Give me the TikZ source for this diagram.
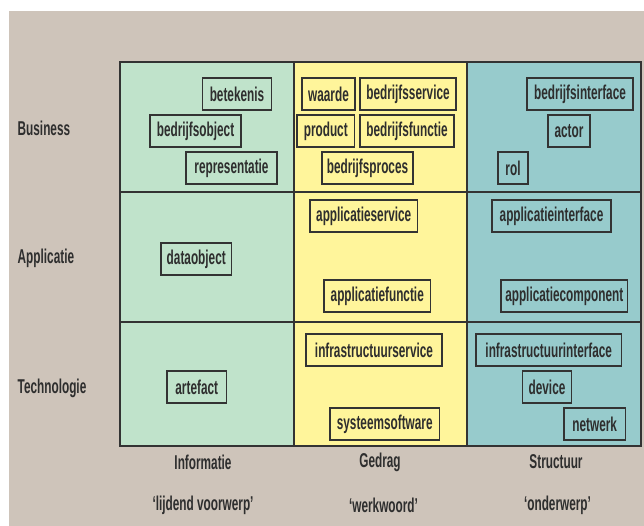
\documentclass[tikz,border=0pt]{standalone}
\usepackage{fontspec}
\newfontfamily\cfont{Liberation Sans}[FakeStretch=0.59]
\definecolor{bgc}{HTML}{CEC4BA}
\definecolor{greenc}{HTML}{C0E3CB}
\definecolor{yellowc}{HTML}{FFF59B}
\definecolor{tealc}{HTML}{97CBCC}
\definecolor{linec}{HTML}{333333}
\definecolor{txtc}{HTML}{2E2E2E}
\tikzset{
  lbl/.style={text=txtc, font=\cfont\bfseries\fontsize{20}{22}\selectfont, inner sep=0pt},
  box/.style={lbl, draw=linec, line width=1.3pt, minimum height=32pt},
  gridline/.style={draw=linec, line width=1.4pt}
}
\begin{document}
\begin{tikzpicture}[x=1pt,y=-1pt]
\useasboundingbox (0,0) rectangle (644,526);
\fill[white] (0,0) rectangle (644,526);
\fill[bgc] (9,11) rectangle (644,526);
% columns
\fill[greenc] (120,62) rectangle (294,446);
\fill[yellowc] (294,62) rectangle (467,446);
\fill[tealc] (467,62) rectangle (641,446);
\draw[gridline] (120,62) rectangle (641,446);
\draw[gridline] (120,192) -- (641,192);
\draw[gridline] (120,322) -- (641,322);
\draw[gridline] (294,62) -- (294,446);
\draw[gridline] (467,62) -- (467,446);
% row labels
\node[lbl, anchor=west] (rb) at (17.5,128) {Business};
\node[lbl, anchor=west] (ra) at (17.5,258) {Applicatie};
\node[lbl, anchor=west] (rt) at (17.5,388) {Technologie};
% column labels
\node[lbl] (ci) at (203,462) {Informatie};
\node[lbl] (cg) at (380,462) {Gedrag};
\node[lbl] (cs) at (556,462) {Structuur};
\node[lbl] (qi) at (203,505) {‘lijdend voorwerp’};
\node[lbl] (qg) at (383.5,505) {‘werkwoord’};
\node[lbl] (qs) at (557.5,505) {‘onderwerp’};
% business
\node[box, minimum width=68.5pt] (betekenis) at (237,94) {betekenis};
\node[box, minimum width=91pt] (bedrijfsobject) at (195.5,131) {bedrijfsobject};
\node[box, minimum width=91pt] (representatie) at (231.5,168) {representatie};
\node[box, minimum width=53pt] (waarde) at (328.5,94) {waarde};
\node[box, minimum width=96pt] (bedrijfsservice) at (408,94) {bedrijfsservice};
\node[box, minimum width=57.5pt] (product) at (325.75,131) {product};
\node[box, minimum width=94pt] (bedrijfsfunctie) at (407,131) {bedrijfsfunctie};
\node[box, minimum width=91pt] (bedrijfsproces) at (367.5,168) {bedrijfsproces};
\node[box, minimum width=106pt] (bedrijfsinterface) at (580,94) {bedrijfsinterface};
\node[box, minimum width=42pt] (actor) at (569,131) {actor};
\node[box, minimum width=30pt] (rol) at (513,168) {rol};
% applicatie
\node[box, minimum width=70.5pt] (dataobject) at (196.25,259) {dataobject};
\node[box, minimum width=107.5pt] (applicatieservice) at (363.75,216) {applicatieservice};
\node[box, minimum width=106.5pt] (applicatiefunctie) at (377.25,296) {applicatiefunctie};
\node[box, minimum width=119pt] (applicatieinterface) at (551.5,216) {applicatieinterface};
\node[box, minimum width=126.5pt] (applicatiecomponent) at (564.25,296) {applicatiecomponent};
% technologie
\node[box, minimum width=59.5pt] (artefact) at (196.75,387) {artefact};
\node[box, minimum width=136pt] (infrastructuurservice) at (374,350) {infrastructuurservice};
\node[box, minimum width=109.5pt] (systeemsoftware) at (384.75,424) {systeemsoftware};
\node[box, minimum width=145.5pt] (infrastructuurinterface) at (548.75,350) {infrastructuurinterface};
\node[box, minimum width=49pt] (device) at (547,387) {device};
\node[box, minimum width=61.5pt] (netwerk) at (594.75,424) {netwerk};
\end{tikzpicture}
\end{document}
